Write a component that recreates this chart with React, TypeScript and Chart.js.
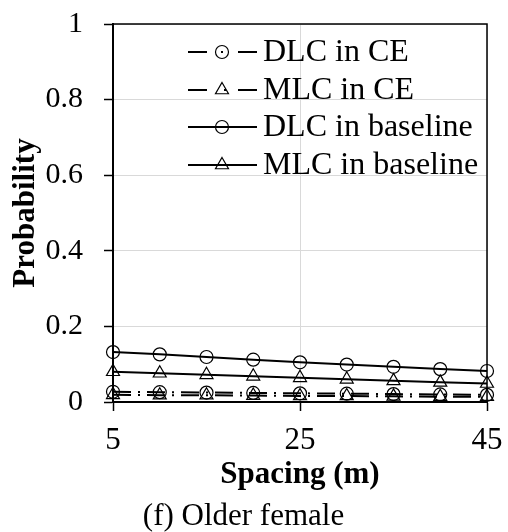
import React, { useEffect, useRef } from 'react';
import { Chart, registerables } from 'chart.js';

Chart.register(...registerables);

// ---- data ----
const spacing = [5, 10, 15, 20, 25, 30, 35, 40, 45];
const dlcCE = [0.027, 0.026, 0.025, 0.024, 0.023, 0.022, 0.021, 0.020, 0.019];
const mlcCE = [0.019, 0.018, 0.018, 0.017, 0.016, 0.016, 0.015, 0.014, 0.014];
const dlcBaseline = [0.132, 0.126, 0.119, 0.112, 0.105, 0.099, 0.093, 0.087, 0.082];
const mlcBaseline = [0.080, 0.076, 0.072, 0.068, 0.064, 0.060, 0.056, 0.052, 0.049];
const xTickValues = [5, 25, 45];
const yTickValues = [0, 0.2, 0.4, 0.6, 0.8, 1];
const yTickLabels = ['0', '0.2', '0.4', '0.6', '0.8', '1'];
const seriesNames = ['DLC in CE', 'MLC in CE', 'DLC in baseline', 'MLC in baseline'];
const xTitle = 'Spacing (m)';
const yTitle = 'Probability';
const caption = '(f) Older female';

const FONT = "'Liberation Serif', 'Times New Roman', serif";
const DASH_DOT = [18, 7, 2, 7];

const borderPlugin = {
  id: 'plotBorder',
  afterDatasetsDraw(chart: any) {
    const { ctx, chartArea } = chart;
    ctx.save();
    ctx.strokeStyle = '#000';
    ctx.lineWidth = 1.5;
    ctx.beginPath();
    ctx.moveTo(chartArea.left, chartArea.top);
    ctx.lineTo(chartArea.right, chartArea.top);
    ctx.lineTo(chartArea.right, chartArea.bottom);
    ctx.stroke();
    ctx.restore();
  },
};

function drawMarker(ctx: CanvasRenderingContext2D, style: string, x: number, y: number) {
  ctx.beginPath();
  if (style === 'circle') {
    ctx.arc(x, y, 6.5, 0, Math.PI * 2);
  } else {
    const r = 7.5;
    ctx.moveTo(x, y - r);
    ctx.lineTo(x + 0.866 * r, y + 0.5 * r);
    ctx.lineTo(x - 0.866 * r, y + 0.5 * r);
    ctx.closePath();
  }
  ctx.stroke();
}

const legendPlugin = {
  id: 'insideLegend',
  afterDraw(chart: any) {
    const { ctx, chartArea } = chart;
    const x0 = chartArea.left + 75;
    const x1 = chartArea.left + 144;
    const xm = chartArea.left + 109;
    const xt = chartArea.left + 150;
    const rowsY = [28, 66, 103, 141].map((d) => chartArea.top + d);
    ctx.save();
    ctx.strokeStyle = '#000';
    ctx.fillStyle = '#000';
    chart.data.datasets.forEach((ds: any, i: number) => {
      const y = rowsY[i];
      ctx.lineWidth = 2;
      ctx.beginPath();
      if (ds.borderDash && ds.borderDash.length) {
        ctx.moveTo(x0, y);
        ctx.lineTo(x0 + 19, y);
        ctx.moveTo(x1 - 19, y);
        ctx.lineTo(x1, y);
        ctx.stroke();
        ctx.fillRect(xm + (ds.pointStyle === 'circle' ? -1 : 2), y - 1, 2, 2);
      } else {
        ctx.moveTo(x0, y);
        ctx.lineTo(x1, y);
        ctx.stroke();
      }
      ctx.lineWidth = 1.2;
      drawMarker(ctx, ds.pointStyle, xm, y);
      ctx.font = `32px ${FONT}`;
      ctx.textAlign = 'left';
      ctx.textBaseline = 'middle';
      ctx.fillText(ds.label, xt, y + 1);
    });
    ctx.restore();
  },
};

function makeDataset(label: string, values: number[], pointStyle: string, dashed: boolean) {
  return {
    label,
    data: spacing.map((x, i) => ({ x, y: values[i] })),
    borderColor: '#000',
    backgroundColor: 'rgba(0,0,0,0)',
    borderWidth: 2,
    borderDash: dashed ? DASH_DOT : [],
    pointStyle,
    pointRadius: pointStyle === 'circle' ? 6.5 : 7.5,
    pointBorderWidth: 1.2,
    pointBorderColor: '#000',
    pointBackgroundColor: 'rgba(0,0,0,0)',
    tension: 0,
    clip: false as any,
  };
}

export default function App() {
  const canvasRef = useRef<HTMLCanvasElement | null>(null);

  useEffect(() => {
    document.body.style.margin = '0';
    const canvas = canvasRef.current;
    if (!canvas) return;
    const chart = new Chart(canvas, {
      type: 'line',
      data: {
        datasets: [
          makeDataset(seriesNames[0], dlcCE, 'circle', true),
          makeDataset(seriesNames[1], mlcCE, 'triangle', true),
          makeDataset(seriesNames[2], dlcBaseline, 'circle', false),
          makeDataset(seriesNames[3], mlcBaseline, 'triangle', false),
        ],
      },
      options: {
        responsive: false,
        animation: false,
        devicePixelRatio: 1,
        layout: { padding: { top: 24, right: 21, left: 0, bottom: 0 } },
        plugins: {
          legend: { display: false },
          tooltip: { enabled: false },
          title: {
            display: true,
            position: 'bottom',
            text: caption,
            color: '#000',
            font: { family: FONT, size: 31, weight: 'normal', lineHeight: 1 },
            padding: { top: 0, bottom: 0 },
          },
        },
        scales: {
          x: {
            type: 'linear',
            min: 5,
            max: 45,
            afterBuildTicks: (scale: any) => {
              scale.ticks = xTickValues.map((v) => ({ value: v }));
            },
            afterFit: (scale: any) => {
              scale.height = 99;
              scale.paddingLeft = 0;
              scale.paddingRight = 0;
            },
            ticks: {
              color: '#000',
              font: { family: FONT, size: 31 },
              padding: 11,
              maxRotation: 0,
              autoSkip: false,
            },
            grid: {
              color: '#d9d9d9',
              lineWidth: 1,
              tickColor: '#000',
              tickLength: 9,
              tickWidth: 1.5,
            },
            border: { color: '#000', width: 2 },
            title: {
              display: true,
              text: xTitle,
              color: '#000',
              font: { family: FONT, size: 31, weight: 'bold' },
              padding: { top: 0, bottom: 7 },
            },
          },
          y: {
            type: 'linear',
            min: 0,
            max: 1,
            afterBuildTicks: (scale: any) => {
              scale.ticks = yTickValues.map((v) => ({ value: v }));
            },
            afterFit: (scale: any) => {
              scale.width = 113;
              scale.paddingTop = 0;
              scale.paddingBottom = 0;
            },
            ticks: {
              color: '#000',
              font: { family: FONT, size: 30 },
              padding: 21,
              callback: (_v: any, i: number) => yTickLabels[i],
            },
            grid: {
              color: '#d9d9d9',
              lineWidth: 1,
              tickColor: '#000',
              tickLength: 9,
              tickWidth: 1.5,
            },
            border: { color: '#000', width: 2 },
            title: {
              display: true,
              text: yTitle,
              color: '#000',
              font: { family: FONT, size: 31, weight: 'bold' },
              padding: { top: 7, bottom: 0 },
            },
          },
        },
      } as any,
      plugins: [borderPlugin, legendPlugin],
    });
    return () => chart.destroy();
  }, []);

  return (
    <div style={{ position: 'absolute', left: 0, top: 0, width: 508, height: 532, background: '#fff' }}>
      <canvas ref={canvasRef} width={508} height={532} style={{ width: 508, height: 532, display: 'block' }} />
    </div>
  );
}
